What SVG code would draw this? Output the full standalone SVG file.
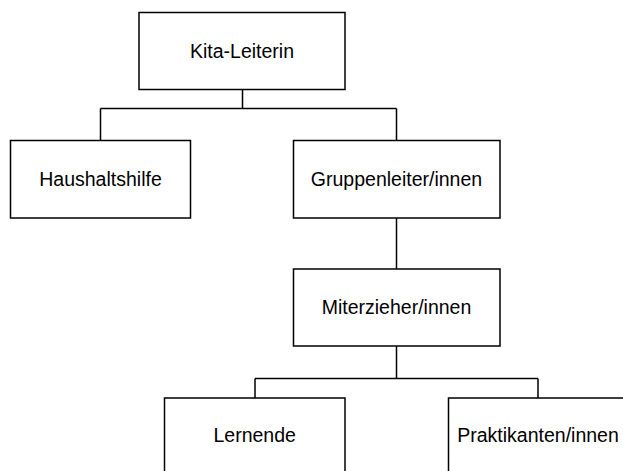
<svg xmlns="http://www.w3.org/2000/svg" width="623" height="471" viewBox="0 0 623 471">
<style>
.box{fill:#fff;stroke:#000;stroke-width:1.5}
.lbl{font-family:"Liberation Sans",Arial,sans-serif;font-size:19.5px;fill:#000;text-anchor:middle}
.con{fill:none;stroke:#000;stroke-width:1.5}
</style>
<rect width="623" height="471" fill="#fff"/>
<g id="connectors">
<path class="con" d="M242.5 89.5V108.5M100.5 108.5H396.5M100.5 108.5V140.5M396.5 108.5V140.5"/>
<path class="con" d="M396.5 218V269"/>
<path class="con" d="M396.5 346V378.5M255 378.5H538M255 378.5V398M538 378.5V398"/>
</g>
<g id="kita">
<rect class="box" x="139" y="12.5" width="206" height="77"/>
<text class="lbl" x="242" y="57.5">Kita-Leiterin</text>
</g>
<g id="haushaltshilfe">
<rect class="box" x="10.5" y="140.5" width="180" height="77.5"/>
<text class="lbl" x="100.5" y="185.5">Haushaltshilfe</text>
</g>
<g id="gruppenleiter">
<rect class="box" x="293.5" y="140.5" width="206.5" height="77.5"/>
<text class="lbl" x="396.5" y="185.5">Gruppenleiter/innen</text>
</g>
<g id="miterzieher">
<rect class="box" x="293.5" y="269" width="206.5" height="77"/>
<text class="lbl" x="396.5" y="313.5">Miterzieher/innen</text>
</g>
<g id="lernende">
<rect class="box" x="164.5" y="398" width="180.5" height="77"/>
<text class="lbl" x="254.7" y="442">Lernende</text>
</g>
<g id="praktikanten">
<rect class="box" x="448.5" y="398" width="180" height="77"/>
<text class="lbl" x="538" y="442">Praktikanten/innen</text>
</g>
</svg>
